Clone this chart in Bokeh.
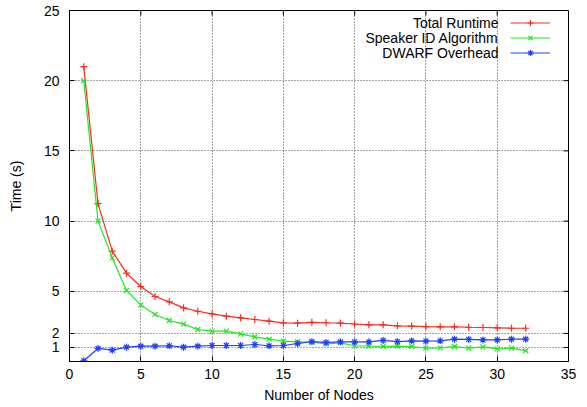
import math
from bokeh.plotting import figure
from bokeh.models import FixedTicker, Legend, LegendItem, Range1d, Label
from bokeh.embed import file_html
from bokeh.resources import INLINE

nodes = list(range(1, 33))
total_runtime = [21.0, 11.25, 7.86, 6.29, 5.34, 4.63, 4.25, 3.82, 3.58, 3.39,
                 3.23, 3.11, 2.99, 2.87, 2.75, 2.73, 2.79, 2.76, 2.74, 2.67,
                 2.61, 2.61, 2.54, 2.52, 2.49, 2.47, 2.47, 2.44, 2.42, 2.40, 2.37, 2.37]
speaker_id = [20.0, 10.0, 7.38, 5.06, 4.03, 3.35, 2.92, 2.66, 2.28, 2.16,
              2.16, 1.97, 1.76, 1.59, 1.45, 1.40, 1.37, 1.26, 1.33, 1.12,
              1.09, 1.07, 1.09, 1.07, 0.95, 0.97, 1.07, 0.95, 1.04, 0.90, 0.95, 0.78]
dwarf_overhead = [0.05, 0.93, 0.81, 1.02, 1.09, 1.09, 1.12, 1.02, 1.09, 1.14,
                  1.14, 1.14, 1.21, 1.12, 1.14, 1.28, 1.41, 1.36, 1.40, 1.40,
                  1.40, 1.50, 1.42, 1.47, 1.45, 1.47, 1.59, 1.57, 1.54, 1.54, 1.59, 1.59]
x_ticks = [0, 5, 10, 15, 20, 25, 30, 35]
y_ticks = [1, 2, 5, 10, 15, 20, 25]
series_names = ["Total Runtime", "Speaker ID Algorithm", "DWARF Overhead"]

FONT = "Liberation Sans"
X_MIN, X_MAX = 0, 35
Y_MIN, Y_MAX = 0, 25
W, H = 587, 405
BL, BR, BT, BB = 69, 19, 10, 44
FW, FH = W - BL - BR, H - BT - BB

p = figure(width=W, height=H, output_backend="svg", toolbar_location=None,
           x_range=Range1d(X_MIN, X_MAX), y_range=Range1d(Y_MIN, Y_MAX),
           min_border_left=BL, min_border_right=BR, min_border_top=BT, min_border_bottom=BB)
p.background_fill_color = "white"
p.border_fill_color = "white"
p.outline_line_color = "black"
p.outline_line_width = 1

for ax, ticks in ((p.xaxis[0], x_ticks), (p.yaxis[0], y_ticks)):
    ax.ticker = FixedTicker(ticks=ticks)
    ax.major_tick_in = 5
    ax.major_tick_out = 0
    ax.minor_tick_line_color = None
    ax.axis_line_color = "black"
    ax.major_tick_line_color = "black"
    ax.major_label_text_font = FONT
    ax.major_label_text_font_size = "14px"
    ax.major_label_text_color = "black"
    ax.axis_label_text_font = FONT
    ax.axis_label_text_font_size = "14px"
    ax.axis_label_text_font_style = "normal"
    ax.axis_label_text_color = "black"

p.xaxis.axis_label = "Number of Nodes"
p.yaxis.axis_label = "Time (s)"
p.xaxis.major_label_standoff = 7
p.xaxis.axis_label_standoff = 5
p.yaxis.major_label_standoff = 10
p.yaxis.axis_label_standoff = 17

p.xgrid.ticker = FixedTicker(ticks=x_ticks[1:-1])
p.ygrid.ticker = FixedTicker(ticks=y_ticks[:-1])
for g in (p.xgrid[0], p.ygrid[0]):
    g.grid_line_color = "#444444"
    g.grid_line_dash = "1 2"
    g.grid_line_width = 1

# mirrored inward ticks on the top and right borders (half of each dash is clipped by the frame)
top_t = x_ticks[1:-1]
p.scatter(top_t, [Y_MAX] * len(top_t), marker="dash", angle=math.pi / 2, size=10,
          line_color="black", line_width=1)
right_t = y_ticks[:-1]
p.scatter([X_MAX] * len(right_t), right_t, marker="dash", size=10,
          line_color="black", line_width=1)

colors = ["#ff2a1a", "#1ee81e", "#2040ff"]
markers = ["cross", "x", "asterisk"]
series = [total_runtime, speaker_id, dwarf_overhead]
sample_items = []
for name, vals, c, m in zip(series_names, series, colors, markers):
    l = p.line(nodes, vals, line_color=c, line_width=1.2)
    s = p.scatter(nodes, vals, marker=m, size=7, line_color=c, line_width=1.2)
    sample_items.append(LegendItem(label=" ", renderers=[l, s]))

# gnuplot-style key: right-aligned text followed by the line sample
KEY_ROW = 15          # px per row
KEY_TOP = 4.5         # px below frame top
KEY_SAMPLE_X = 441    # px from frame left
KEY_TEXT_RIGHT = 429  # px from frame left
samples = Legend(items=sample_items, location=(KEY_SAMPLE_X, FH - KEY_TOP - 3 * KEY_ROW),
                 glyph_width=40, label_width=0, border_line_color=None, background_fill_alpha=0,
                 label_text_font=FONT, label_text_font_size="14px",
                 glyph_height=KEY_ROW, label_height=KEY_ROW, spacing=0, padding=0, margin=0,
                 label_standoff=0)
p.add_layout(samples, "center")

for i, name in enumerate(series_names):
    px_y = KEY_TOP + KEY_ROW * (i + 0.5)
    lab = Label(x=X_MIN + KEY_TEXT_RIGHT / FW * (X_MAX - X_MIN),
                y=Y_MAX - px_y / FH * (Y_MAX - Y_MIN),
                text=name, text_align="right", text_baseline="middle",
                text_font=FONT, text_font_size="14px", text_color="black")
    p.add_layout(lab)

open("out.html", "w").write(file_html(p, INLINE))
